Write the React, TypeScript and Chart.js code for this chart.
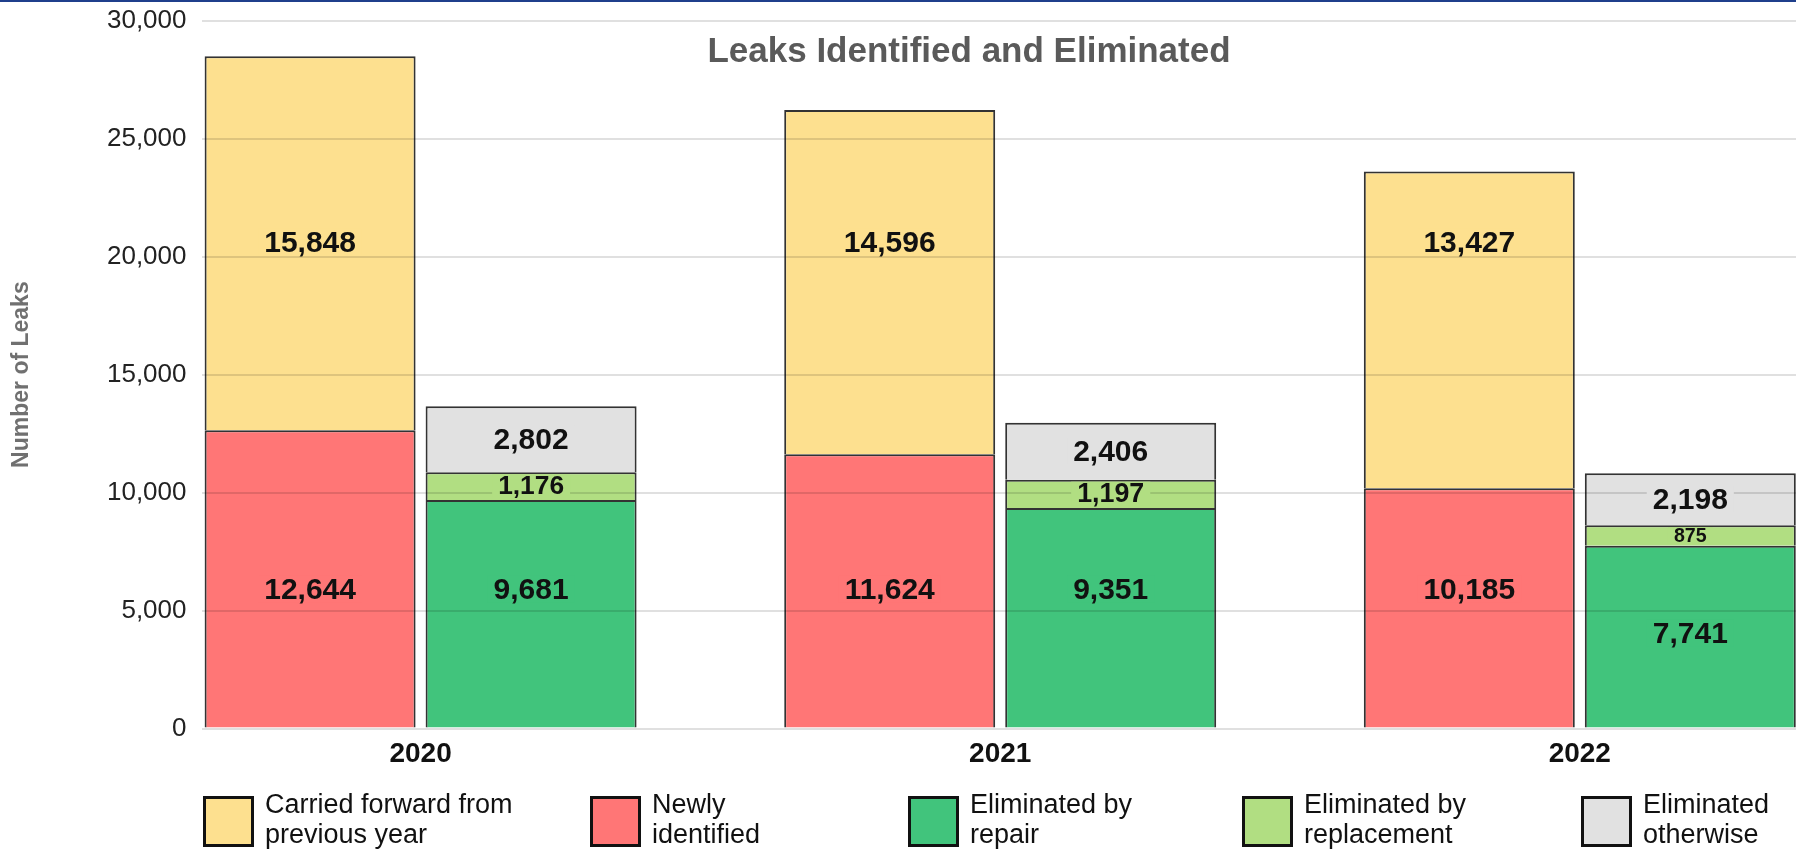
import React, { useEffect, useRef } from "react";
import { Chart, registerables } from "chart.js";

Chart.register(...registerables);

// ---- data ----
const years = ["2020", "2021", "2022"];
const carriedForward = [15848, 14596, 13427];
const newlyIdentified = [12644, 11624, 10185];
const elimRepair = [9681, 9351, 7741];
const elimReplacement = [1176, 1197, 875];
const elimOtherwise = [2802, 2406, 2198];
const yTickValues = [0, 5000, 10000, 15000, 20000, 25000, 30000];

const chartTitle = "Leaks Identified and Eliminated";
const yAxisTitle = "Number of Leaks";

const legendLabels: string[][] = [
  ["Carried forward from", "previous year"],
  ["Newly", "identified"],
  ["Eliminated by", "repair"],
  ["Eliminated by", "replacement"],
  ["Eliminated", "otherwise"],
];

// ---- styles / layout ----
const COLORS = {
  carried: "#FDE08F",
  newly: "#FF7676",
  repair: "#41C47C",
  replacement: "#B1DE82",
  otherwise: "#E1E1E1",
};
const W = 1796;
const H = 852;
const PLOT_LEFT = 201.5;
const PLOT_TOP = 20.7;
const PLOT_BOTTOM = 728.5;
const GROUP_PITCH = 579.6;
const FIRST_CENTER = 420.6;
const FONT = "'Liberation Sans', Arial, Helvetica, sans-serif";

// label anchor (in data units) where the original places some labels
const LABEL_AT: Record<string, number[]> = {
  carried: [20600, 20600, 20600],
  newly: [5900, 5900, 5900],
  repair: [5900, 5900, 4030],
};

const LEGEND_BOX_X = [203, 590, 908, 1242, 1581];

const fmt = (v: number) => Number(v).toLocaleString("en-US");

const overlayPlugin = {
  id: "overlay",
  afterDraw(chart: any) {
    const ctx = chart.ctx as CanvasRenderingContext2D;
    const yScale = chart.scales.y;
    ctx.save();

    // top blue rule
    ctx.fillStyle = "#1F3F8C";
    ctx.fillRect(0, 0, W, 2);

    // data labels
    chart.data.datasets.forEach((ds: any, di: number) => {
      const meta = chart.getDatasetMeta(di);
      meta.data.forEach((el: any, i: number) => {
        const value = ds.data[i].y;
        const top = Math.min(el.y, el.base);
        const bot = Math.max(el.y, el.base);
        const segH = bot - top;
        let cy = (top + bot) / 2;
        const anchors = LABEL_AT[ds.key];
        if (anchors && anchors[i] != null) cy = yScale.getPixelForValue(anchors[i]);
        const fs = Math.min(30, Math.max(18, segH * 0.95));
        ctx.font = `bold ${fs}px ${FONT}`;
        const text = fmt(value);
        const tw = ctx.measureText(text).width;
        const bh = Math.min(fs * 0.9, segH - 4);
        ctx.fillStyle = ds.backgroundColor;
        ctx.fillRect(el.x - tw / 2 - 6, cy - bh / 2, tw + 12, bh);
        ctx.fillStyle = "#111";
        ctx.textAlign = "center";
        ctx.textBaseline = "middle";
        ctx.fillText(text, el.x, cy + 1);
      });
    });

    // title inside plot
    ctx.font = `bold 35px ${FONT}`;
    ctx.fillStyle = "#5A5A5A";
    ctx.textAlign = "center";
    ctx.textBaseline = "middle";
    ctx.fillText(chartTitle, 969, 52);

    // legend
    const order = ["carried", "newly", "repair", "replacement", "otherwise"];
    order.forEach((key, k) => {
      const ds = chart.data.datasets.find((d: any) => d.key === key);
      const bx = LEGEND_BOX_X[k];
      const by = 796;
      const bs = 51;
      ctx.fillStyle = ds.backgroundColor;
      ctx.fillRect(bx, by, bs, bs);
      ctx.lineWidth = 3;
      ctx.strokeStyle = "#111";
      ctx.strokeRect(bx + 1.5, by + 1.5, bs - 3, bs - 3);
      ctx.font = `27px ${FONT}`;
      ctx.fillStyle = "#111";
      ctx.textAlign = "left";
      ctx.textBaseline = "middle";
      const lines = legendLabels[k];
      ctx.fillText(lines[0], bx + 62, 806);
      ctx.fillText(lines[1], bx + 62, 836);
    });

    ctx.restore();
  },
};

export default function App() {
  const ref = useRef<HTMLCanvasElement>(null);

  useEffect(() => {
    if (!ref.current) return;
    const xMin = (PLOT_LEFT - FIRST_CENTER) / GROUP_PITCH;
    const xMax = (W - FIRST_CENTER) / GROUP_PITCH;
    const toXY = (arr: number[]) => arr.map((v, i) => ({ x: i, y: v }));
    const common = {
      borderColor: "#333",
      borderWidth: 2,
      categoryPercentage: 442 / GROUP_PITCH,
      barPercentage: 211 / 221,
    };

    const chart = new Chart(ref.current, {
      type: "bar",
      data: {
        datasets: [
          { key: "newly", label: "Newly identified", data: toXY(newlyIdentified), backgroundColor: COLORS.newly, stack: "found", ...common },
          { key: "carried", label: "Carried forward from previous year", data: toXY(carriedForward), backgroundColor: COLORS.carried, stack: "found", ...common },
          { key: "repair", label: "Eliminated by repair", data: toXY(elimRepair), backgroundColor: COLORS.repair, stack: "elim", ...common },
          { key: "replacement", label: "Eliminated by replacement", data: toXY(elimReplacement), backgroundColor: COLORS.replacement, stack: "elim", ...common },
          { key: "otherwise", label: "Eliminated otherwise", data: toXY(elimOtherwise), backgroundColor: COLORS.otherwise, stack: "elim", ...common },
        ] as any,
      },
      options: {
        responsive: false,
        animation: false,
        layout: { padding: { top: PLOT_TOP, left: 0, right: 0, bottom: 0 } },
        plugins: {
          legend: { display: false },
          tooltip: { enabled: false },
          title: { display: false },
        },
        scales: {
          x: {
            type: "linear",
            min: xMin,
            max: xMax,
            offset: false,
            bounds: "data",
            grid: { display: false, drawTicks: false, offset: false },
            border: { display: false },
            afterBuildTicks: (s: any) => {
              s.ticks = years.map((_, i) => ({ value: i }));
            },
            afterFit: (s: any) => {
              s.height = H - PLOT_BOTTOM;
              s.paddingLeft = 0;
              s.paddingRight = 0;
            },
            ticks: {
              autoSkip: false,
              maxRotation: 0,
              padding: 9,
              color: "#111",
              font: { family: FONT, size: 28, weight: "bold" },
              callback: (v: any) => years[Math.round(Number(v))] ?? "",
            },
          },
          y: {
            stacked: true,
            min: 0,
            max: 30000,
            afterBuildTicks: (s: any) => {
              s.ticks = yTickValues.map((v) => ({ value: v }));
            },
            afterFit: (s: any) => {
              s.width = PLOT_LEFT;
              s.paddingTop = 0;
              s.paddingBottom = 0;
            },
            grid: { color: "rgba(0,0,0,0.12)", lineWidth: 2, drawTicks: false, z: 1 },
            border: { display: false },
            ticks: {
              padding: 15,
              color: "#222",
              font: { family: FONT, size: 26 },
              callback: (v: any) => fmt(v),
            },
            title: {
              display: true,
              text: yAxisTitle,
              color: "#707070",
              font: { family: FONT, size: 23, weight: "bold" },
              padding: { top: 8, bottom: 0 },
            },
          },
        },
      } as any,
      plugins: [overlayPlugin],
    });
    return () => chart.destroy();
  }, []);

  return (
    <div style={{ position: "fixed", left: 0, top: 0, width: W, height: H, background: "#fff", overflow: "hidden" }}>
      <canvas ref={ref} width={W} height={H} style={{ display: "block" }} />
    </div>
  );
}
